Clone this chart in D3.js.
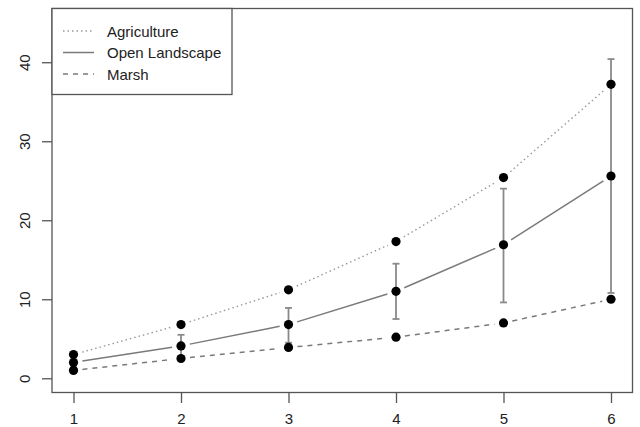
<!DOCTYPE html>
<html>
<head>
<meta charset="utf-8">
<script src="https://cdn.jsdelivr.net/npm/d3@7"></script>
<style>
  body { margin: 0; background: #fff; }
  svg { display: block; font-family: "Liberation Sans", Arial, sans-serif; }
</style>
</head>
<body>
<svg id="chart" width="640" height="427"></svg>
<script>
const xs = [1, 2, 3, 4, 5, 6];
const agriculture = [3.0, 6.8, 11.2, 17.3, 25.4, 37.2];
const openLandscape = [2.0, 4.1, 6.8, 11.0, 16.9, 25.6];
const marsh = [1.0, 2.5, 3.9, 5.2, 7.0, 10.0];
const openLower = [1.6, 2.7, 4.5, 7.5, 9.6, 10.8];
const openUpper = [2.4, 5.5, 8.9, 14.5, 24.0, 40.4];
const xTicks = [1, 2, 3, 4, 5, 6];
const yTicks = [0, 10, 20, 30, 40];
const legendLabels = ["Agriculture", "Open Landscape", "Marsh"];

(function () {
const svg = d3.select("#chart");
const pLeft = 52, pRight = 632.5, pTop = 8.5, pBottom = 392.5;

const x = d3.scaleLinear().domain([0.8, 6.2]).range([pLeft, pRight]);
const y = d3.scaleLinear().domain([-1.8, 46.8]).range([pBottom, pTop]);

const axisColor = "#555";
const textColor = "#222";

// box
svg.append("rect").attr("x", pLeft).attr("y", pTop)
  .attr("width", pRight - pLeft).attr("height", pBottom - pTop)
  .attr("fill", "none").attr("stroke", axisColor).attr("stroke-width", 1.3);

// x axis
const xAxis = svg.append("g").attr("transform", `translate(0,${pBottom})`)
  .call(d3.axisBottom(x).tickValues(xTicks).tickSize(10.5).tickPadding(10.5).tickFormat(d3.format("d")));
xAxis.select(".domain").remove();
xAxis.selectAll("line").attr("stroke", axisColor).attr("stroke-width", 1.3);
xAxis.selectAll("text").attr("fill", textColor).attr("font-size", "15px")
  .attr("font-family", "Liberation Sans, Arial, sans-serif");

// y axis
const yAxis = svg.append("g").attr("transform", `translate(${pLeft},0)`)
  .call(d3.axisLeft(y).tickValues(yTicks).tickSize(10).tickFormat(d3.format("d")));
yAxis.select(".domain").remove();
yAxis.selectAll("line").attr("stroke", axisColor).attr("stroke-width", 1.3);
yAxis.selectAll("text")
  .attr("fill", textColor).attr("font-size", "15px")
  .attr("font-family", "Liberation Sans, Arial, sans-serif")
  .attr("x", null).attr("dy", null)
  .attr("text-anchor", "middle")
  .attr("dominant-baseline", "central")
  .attr("transform", "translate(-28,0) rotate(-90)");

// lines with gaps (type = "b")
const gap = 9;
function gappedSegments(vals) {
  const segs = [];
  for (let i = 0; i < xs.length - 1; i++) {
    const x1 = x(xs[i]), y1 = y(vals[i]), x2 = x(xs[i + 1]), y2 = y(vals[i + 1]);
    const dx = x2 - x1, dy = y2 - y1, len = Math.hypot(dx, dy);
    const ux = dx / len, uy = dy / len;
    segs.push([x1 + ux * gap, y1 + uy * gap, x2 - ux * gap, y2 - uy * gap]);
  }
  return segs;
}
const series = [
  { vals: agriculture, color: "#999", dash: "1.5,3", width: 1.4 },
  { vals: openLandscape, color: "#7a7a7a", dash: null, width: 1.5 },
  { vals: marsh, color: "#7a7a7a", dash: "5,5", width: 1.5 }
];
series.forEach(s => {
  svg.append("g").selectAll("line").data(gappedSegments(s.vals)).join("line")
    .attr("x1", d => d[0]).attr("y1", d => d[1]).attr("x2", d => d[2]).attr("y2", d => d[3])
    .attr("stroke", s.color).attr("stroke-width", s.width)
    .attr("stroke-dasharray", s.dash);
});

// error bars
const eb = svg.append("g").attr("stroke", "#8a8a8a").attr("stroke-width", 1.8);
xs.forEach((xv, i) => {
  const cx = x(xv);
  eb.append("line").attr("x1", cx).attr("x2", cx).attr("y1", y(openLower[i])).attr("y2", y(openUpper[i]));
  eb.append("line").attr("x1", cx - 3.5).attr("x2", cx + 3.5).attr("y1", y(openLower[i])).attr("y2", y(openLower[i]));
  eb.append("line").attr("x1", cx - 3.5).attr("x2", cx + 3.5).attr("y1", y(openUpper[i])).attr("y2", y(openUpper[i]));
});

// points
[agriculture, openLandscape, marsh].forEach(vals => {
  svg.append("g").selectAll("circle").data(vals).join("circle")
    .attr("cx", (d, i) => x(xs[i])).attr("cy", d => y(d)).attr("r", 4.6).attr("fill", "#000");
});

// legend
const lg = svg.append("g");
lg.append("rect").attr("x", pLeft).attr("y", pTop).attr("width", 180).attr("height", 86)
  .attr("fill", "#fff").attr("stroke", axisColor).attr("stroke-width", 1.3);
const rowY = [31, 52.5, 74];
legendLabels.forEach((lab, i) => {
  const s = series[i];
  lg.append("line").attr("x1", 63).attr("x2", 94).attr("y1", rowY[i]).attr("y2", rowY[i])
    .attr("stroke", s.color).attr("stroke-width", s.width).attr("stroke-dasharray", s.dash);
  lg.append("text").attr("x", 107).attr("y", rowY[i]).attr("dominant-baseline", "central")
    .attr("fill", textColor).attr("font-size", "15px").text(lab);
});
})();
</script>
</body>
</html>
